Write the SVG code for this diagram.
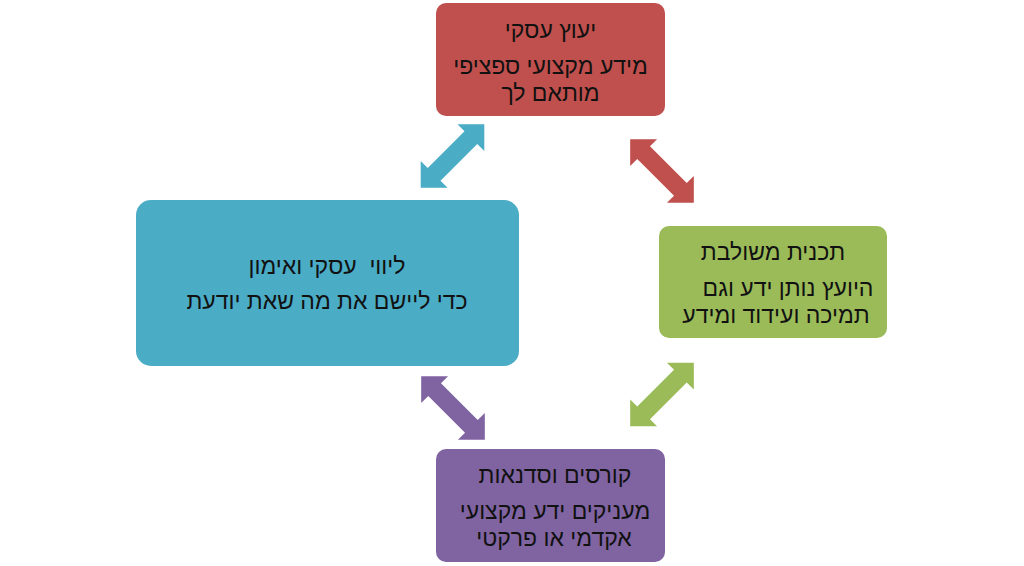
<svg xmlns="http://www.w3.org/2000/svg" xmlns:xlink="http://www.w3.org/1999/xlink" width="1024" height="566" viewBox="0 0 1024 566">
<style>
text{font-family:"Liberation Sans","DejaVu Sans",sans-serif;font-size:23px;fill:#111;text-anchor:middle;white-space:pre}
.red{fill:#C0504D}.green{fill:#9BBB59}.purple{fill:#8064A2}.blue{fill:#4BACC6}
</style>
<defs>
<polygon id="arr" points="-45,0 -26,-19 -26,-9 26,-9 26,-19 45,0 26,19 26,9 -26,9 -26,19"/>
</defs>
<rect width="1024" height="566" fill="#fff"/>
<g id="connectors">
<use xlink:href="#arr" class="blue" transform="translate(452.5,156) rotate(-45)"/>
<use xlink:href="#arr" class="red" transform="translate(662,171) rotate(45)"/>
<use xlink:href="#arr" class="green" transform="translate(662,394.5) rotate(-45)"/>
<use xlink:href="#arr" class="purple" transform="translate(453,408) rotate(45)"/>
</g>
<g id="node-top">
<rect class="red" x="436" y="3" width="229" height="113" rx="10"/>
<text x="550.5" y="38">יעוץ עסקי</text>
<text x="550.5" y="74">מידע מקצועי ספציפי</text>
<text x="550.5" y="101">מותאם לך</text>
</g>
<g id="node-right">
<rect class="green" x="659" y="226" width="228" height="112" rx="10"/>
<text x="773" y="260">תכנית משולבת</text>
<text x="788" y="296">היועץ נותן ידע וגם</text>
<text x="776" y="323">תמיכה ועידוד ומידע</text>
</g>
<g id="node-bottom">
<rect class="purple" x="436" y="449" width="229" height="113" rx="10"/>
<text x="555" y="483">קורסים וסדנאות</text>
<text x="555" y="519">מעניקים ידע מקצועי</text>
<text x="554" y="546">אקדמי או פרקטי</text>
</g>
<g id="node-left">
<rect class="blue" x="136" y="200" width="383" height="166" rx="15"/>
<text x="327" y="274">ליווי  עסקי ואימון</text>
<text x="327" y="309">כדי ליישם את מה שאת יודעת</text>
</g>
</svg>
